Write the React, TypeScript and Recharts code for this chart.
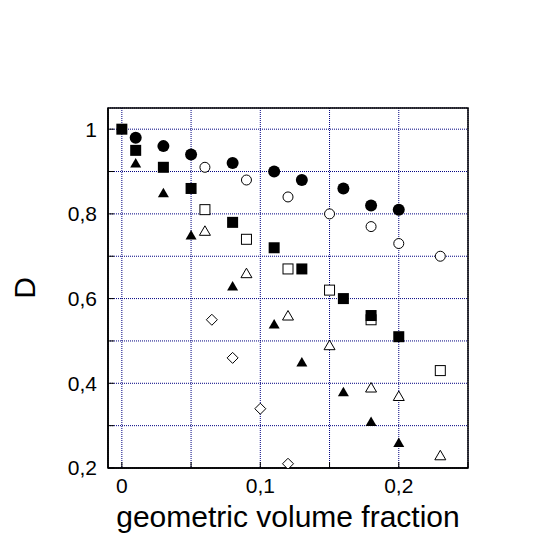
import React from "react";
import {
  ScatterChart,
  Scatter,
  XAxis,
  YAxis,
  CartesianGrid,
  ReferenceArea,
  Label,
} from "recharts";

// series (x = geometric volume fraction, y = D)
const filledCircleX = [0.01, 0.03, 0.05, 0.08, 0.11, 0.13, 0.16, 0.18, 0.2];
const filledCircleY = [0.98, 0.96, 0.94, 0.92, 0.9, 0.88, 0.86, 0.82, 0.81];

const openCircleX = [0.06, 0.09, 0.12, 0.15, 0.18, 0.2, 0.23];
const openCircleY = [0.91, 0.88, 0.84, 0.8, 0.77, 0.73, 0.7];

const filledSquareX = [0, 0.01, 0.03, 0.05, 0.08, 0.11, 0.13, 0.16, 0.18, 0.2];
const filledSquareY = [1.0, 0.95, 0.91, 0.86, 0.78, 0.72, 0.67, 0.6, 0.56, 0.51];

const openSquareX = [0.06, 0.09, 0.12, 0.15, 0.18, 0.23];
const openSquareY = [0.81, 0.74, 0.67, 0.62, 0.55, 0.43];

const filledTriangleX = [0.01, 0.03, 0.05, 0.08, 0.11, 0.13, 0.16, 0.18, 0.2];
const filledTriangleY = [0.92, 0.85, 0.75, 0.63, 0.54, 0.45, 0.38, 0.31, 0.26];

const openTriangleX = [0.06, 0.09, 0.12, 0.15, 0.18, 0.2, 0.23];
const openTriangleY = [0.76, 0.66, 0.56, 0.49, 0.39, 0.37, 0.23];

const diamondX = [0.065, 0.08, 0.1, 0.12];
const diamondY = [0.55, 0.46, 0.34, 0.21];

const xTicks = [0, 0.05, 0.1, 0.15, 0.2, 0.25];
const xTickLabels = ["0", "", "0,1", "", "0,2", ""];
const yTicks = [0.2, 0.3, 0.4, 0.5, 0.6, 0.7, 0.8, 0.9, 1.0];
const yTickLabels = ["0,2", "", "0,4", "", "0,6", "", "0,8", "", "1"];

const toPoints = (xs: number[], ys: number[]) => xs.map((x, i) => ({ x, y: ys[i] }));

const FONT = '"Liberation Sans", Arial, Helvetica, sans-serif';

const FilledCircle = ({ cx, cy }: any) => <circle cx={cx} cy={cy} r={6} fill="#000" />;
const OpenCircle = ({ cx, cy }: any) => (
  <circle cx={cx} cy={cy} r={5} fill="#fff" stroke="#000" strokeWidth={1} />
);
const FilledSquare = ({ cx, cy }: any) => (
  <rect x={cx - 5.5} y={cy - 5.5} width={11} height={11} fill="#000" />
);
const OpenSquare = ({ cx, cy }: any) => (
  <rect x={cx - 5} y={cy - 5} width={10} height={10} fill="#fff" stroke="#000" strokeWidth={1} />
);
const FilledTriangle = ({ cx, cy }: any) => (
  <polygon
    points={`${cx},${cy - 5} ${cx - 5.5},${cy + 4.5} ${cx + 5.5},${cy + 4.5}`}
    fill="#000"
  />
);
const OpenTriangle = ({ cx, cy }: any) => (
  <polygon
    points={`${cx},${cy - 5} ${cx - 5.5},${cy + 4.5} ${cx + 5.5},${cy + 4.5}`}
    fill="#fff"
    stroke="#000"
    strokeWidth={1}
  />
);
const Diamond = ({ cx, cy }: any) => (
  <polygon
    points={`${cx},${cy - 5.5} ${cx + 5.5},${cy} ${cx},${cy + 5.5} ${cx - 5.5},${cy}`}
    fill="#fff"
    stroke="#000"
    strokeWidth={1}
  />
);

const labelFor = (ticks: number[], labels: string[]) => (v: number) => {
  const i = ticks.findIndex((t) => Math.abs(t - v) < 1e-9);
  return i >= 0 ? labels[i] : "";
};

export default function App() {
  return (
    <div style={{ position: "absolute", left: 0, top: 0, width: 540, height: 540, background: "#fff" }}>
      <ScatterChart
        width={540}
        height={540}
        margin={{ top: 108, right: 72, bottom: 0, left: 0 }}
        style={{ fontFamily: FONT }}
      >
        <CartesianGrid stroke="#000080" strokeDasharray="1 1" strokeWidth={1} />
        <XAxis
          type="number"
          dataKey="x"
          domain={[-0.01, 0.25]}
          ticks={xTicks}
          allowDataOverflow
          height={72}
          tickFormatter={labelFor(xTicks, xTickLabels)}
          tick={{ fontSize: 21, fill: "#000" }}
          tickSize={-6}
          tickMargin={16}
          tickLine={{ stroke: "#000" }}
          axisLine={{ stroke: "#000", strokeWidth: 1.5 }}
          interval={0}
        >
          <Label
            content={() => (
              <text x={288} y={527} textAnchor="middle" fontSize={30} fill="#000" fontFamily={FONT}>
                geometric volume fraction
              </text>
            )}
          />
        </XAxis>
        <YAxis
          type="number"
          dataKey="y"
          domain={[0.2, 1.05]}
          ticks={yTicks}
          allowDataOverflow
          width={108}
          tickFormatter={labelFor(yTicks, yTickLabels)}
          tick={{ fontSize: 21, fill: "#000" }}
          tickSize={-6}
          tickMargin={17}
          tickLine={{ stroke: "#000" }}
          axisLine={{ stroke: "#000", strokeWidth: 1.5 }}
          interval={0}
        >
          <Label
            content={() => (
              <text
                x={35}
                y={288}
                transform="rotate(-90 35 288)"
                textAnchor="middle"
                fontSize={30}
                fill="#000"
                fontFamily={FONT}
              >
                D
              </text>
            )}
          />
        </YAxis>
        <ReferenceArea
          x1={-0.01}
          x2={0.25}
          y1={0.2}
          y2={1.05}
          fill="none"
          fillOpacity={0}
          stroke="#000"
          strokeWidth={1.5}
        />
        <Scatter data={toPoints(diamondX, diamondY)} shape={Diamond} isAnimationActive={false} />
        <Scatter data={toPoints(openTriangleX, openTriangleY)} shape={OpenTriangle} isAnimationActive={false} />
        <Scatter data={toPoints(openSquareX, openSquareY)} shape={OpenSquare} isAnimationActive={false} />
        <Scatter data={toPoints(openCircleX, openCircleY)} shape={OpenCircle} isAnimationActive={false} />
        <Scatter data={toPoints(filledTriangleX, filledTriangleY)} shape={FilledTriangle} isAnimationActive={false} />
        <Scatter data={toPoints(filledSquareX, filledSquareY)} shape={FilledSquare} isAnimationActive={false} />
        <Scatter data={toPoints(filledCircleX, filledCircleY)} shape={FilledCircle} isAnimationActive={false} />
      </ScatterChart>
    </div>
  );
}
